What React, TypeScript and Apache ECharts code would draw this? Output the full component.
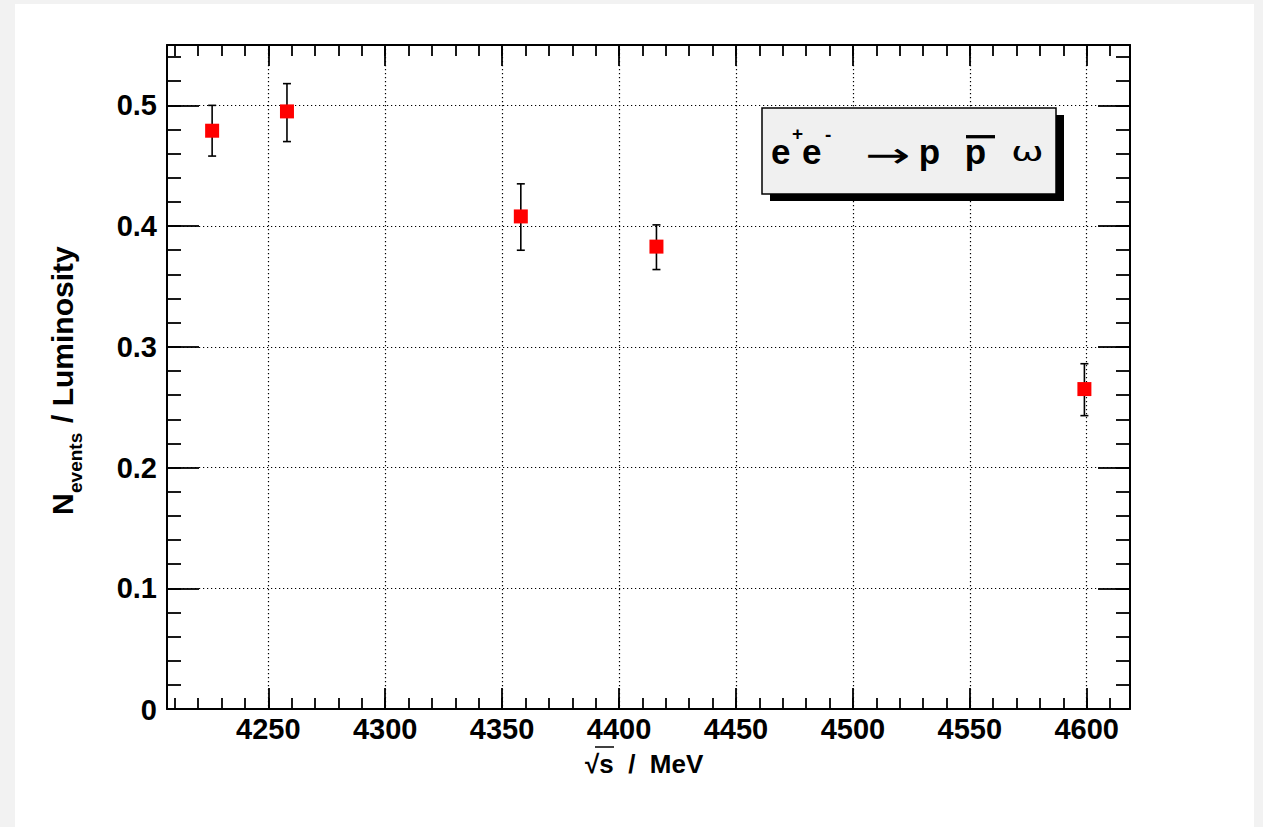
import React, { useEffect, useRef } from 'react';
import * as echarts from 'echarts';

// ---- data ----
const energies = [4226, 4258, 4358, 4416, 4599];
const ratios = [0.479, 0.495, 0.408, 0.383, 0.265];
const errLow = [0.458, 0.470, 0.380, 0.364, 0.243];
const errHigh = [0.500, 0.518, 0.435, 0.401, 0.286];

// ---- tick labels ----
const xMajorTicks = [4250, 4300, 4350, 4400, 4450, 4500, 4550, 4600];
const xMinorTicks = [4210, 4220, 4230, 4240, 4250, 4260, 4270, 4280, 4290, 4300, 4310, 4320, 4330, 4340, 4350, 4360, 4370, 4380, 4390, 4400, 4410, 4420, 4430, 4440, 4450, 4460, 4470, 4480, 4490, 4500, 4510, 4520, 4530, 4540, 4550, 4560, 4570, 4580, 4590, 4600, 4610];
const yMajorTicks = [0, 0.1, 0.2, 0.3, 0.4, 0.5];
const yMinorTicks = [0.02, 0.04, 0.06, 0.08, 0.1, 0.12, 0.14, 0.16, 0.18, 0.2, 0.22, 0.24, 0.26, 0.28, 0.3, 0.32, 0.34, 0.36, 0.38, 0.4, 0.42, 0.44, 0.46, 0.48, 0.5, 0.52, 0.54];

const X_MIN = 4206.7;
const X_MAX = 4618.5;
const Y_MIN = 0;
const Y_MAX = 0.55;

const FONT = '"Liberation Sans", Arial, Helvetica, sans-serif';
const lineStyle = { color: '#000', width: 2 };
const tickStyle = { color: '#000', width: 1.8 };
const gridDot = { color: '#000', width: 1.2, type: [1.2, 2.8] as any };

function makeAxis(
  pos: string,
  min: number,
  max: number,
  ticks: number[],
  len: number,
  showLine: boolean,
  extra: any = {}
) {
  return {
    type: 'value',
    position: pos,
    min,
    max,
    gridIndex: 0,
    axisLine: { show: showLine, onZero: false, lineStyle },
    axisTick: { show: true, inside: true, length: len, customValues: ticks, lineStyle: tickStyle },
    axisLabel: { show: false },
    splitLine: { show: false },
    minorTick: { show: false },
    minorSplitLine: { show: false },
    ...extra,
  };
}

export default function App() {
  const ref = useRef<HTMLDivElement>(null);

  useEffect(() => {
    if (!ref.current) return;
    const chart = echarts.init(ref.current, undefined, { renderer: 'svg' });

    const labelStyle = {
      color: '#000',
      fontFamily: FONT,
      fontWeight: 'bold',
      fontSize: 29,
    };

    const option: any = {
      animation: false,
      backgroundColor: '#f2f2f2',
      grid: { left: 167, top: 45, width: 963, height: 664, containLabel: false },
      xAxis: [
        makeAxis('bottom', X_MIN, X_MAX, xMajorTicks, 21, true, {
          axisLabel: {
            show: true,
            customValues: xMajorTicks,
            margin: 5,
            formatter: (v: number) => String(Math.round(v)),
            ...labelStyle,
          },
          splitLine: { show: true, lineStyle: gridDot },
        }),
        makeAxis('top', X_MIN, X_MAX, xMajorTicks, 21, true),
        makeAxis('bottom', X_MIN, X_MAX, xMinorTicks, 11, false),
        makeAxis('top', X_MIN, X_MAX, xMinorTicks, 11, false),
      ],
      yAxis: [
        makeAxis('left', Y_MIN, Y_MAX, yMajorTicks, 32, true, {
          axisLabel: {
            show: true,
            customValues: yMajorTicks,
            margin: 10,
            formatter: (v: number) => (v === 0 ? '{z|0}' : String(Math.round(v * 10) / 10)),
            rich: { z: { ...labelStyle, padding: [2, 0, 0, 0] } },
            ...labelStyle,
          },
          splitLine: { show: true, lineStyle: gridDot },
        }),
        makeAxis('right', Y_MIN, Y_MAX, yMajorTicks, 32, true),
        makeAxis('left', Y_MIN, Y_MAX, yMinorTicks, 14, false),
        makeAxis('right', Y_MIN, Y_MAX, yMinorTicks, 14, false),
      ],
      series: [
        {
          type: 'custom',
          xAxisIndex: 0,
          yAxisIndex: 0,
          z: 3,
          encode: { x: 0, y: [1, 2] },
          data: energies.map((e, i) => [e, errLow[i], errHigh[i]]),
          renderItem: (params: any, api: any) => {
            const x = api.value(0);
            const pLo = api.coord([x, api.value(1)]);
            const pHi = api.coord([x, api.value(2)]);
            const cap = 4;
            const style = { stroke: '#000', lineWidth: 1.6 };
            return {
              type: 'group',
              children: [
                { type: 'line', shape: { x1: pLo[0], y1: pLo[1], x2: pHi[0], y2: pHi[1] }, style },
                { type: 'line', shape: { x1: pLo[0] - cap, y1: pLo[1], x2: pLo[0] + cap, y2: pLo[1] }, style },
                { type: 'line', shape: { x1: pHi[0] - cap, y1: pHi[1], x2: pHi[0] + cap, y2: pHi[1] }, style },
              ],
            };
          },
        },
        {
          type: 'scatter',
          xAxisIndex: 0,
          yAxisIndex: 0,
          z: 4,
          symbol: 'rect',
          symbolSize: 14,
          itemStyle: { color: '#ff0000', opacity: 1 },
          data: energies.map((e, i) => [e, ratios[i]]),
        },
      ],
      graphic: [
        { type: 'rect', z: -10, silent: true, shape: { x: 15, y: 4, width: 1239, height: 823 }, style: { fill: '#ffffff' } },
        // legend box shadow + box
        { type: 'rect', z: 100, shape: { x: 770, y: 115, width: 294, height: 86 }, style: { fill: '#000' } },
        { type: 'rect', z: 101, shape: { x: 762, y: 108, width: 294, height: 86 }, style: { fill: '#f0f0f0', stroke: '#000', lineWidth: 1.5 } },
        { type: 'text', z: 102, x: 771, y: 151, style: { text: 'e', font: `bold 35px ${FONT}`, fill: '#000', verticalAlign: 'middle' } },
        { type: 'text', z: 102, x: 792, y: 133, style: { text: '+', font: `bold 19px ${FONT}`, fill: '#000', verticalAlign: 'middle' } },
        { type: 'text', z: 102, x: 802, y: 151, style: { text: 'e', font: `bold 35px ${FONT}`, fill: '#000', verticalAlign: 'middle' } },
        { type: 'text', z: 102, x: 825, y: 134.5, style: { text: '-', font: `bold 19px ${FONT}`, fill: '#000', verticalAlign: 'middle' } },
        { type: 'text', z: 102, x: 865, y: 155, scaleX: 1.55, style: { text: '→', font: `35px "DejaVu Sans", sans-serif`, fill: '#000', verticalAlign: 'middle' } },
        { type: 'text', z: 102, x: 918.7, y: 151, style: { text: 'p', font: `bold 35px ${FONT}`, fill: '#000', verticalAlign: 'middle' } },
        { type: 'text', z: 102, x: 964.7, y: 151, style: { text: 'p', font: `bold 35px ${FONT}`, fill: '#000', verticalAlign: 'middle' } },
        { type: 'line', z: 102, shape: { x1: 966, y1: 136.7, x2: 995, y2: 136.7 }, style: { stroke: '#000', lineWidth: 3.3 } },
        { type: 'text', z: 102, x: 1011, y: 152, scaleX: 1.45, style: { text: 'ω', font: `27px "DejaVu Sans", sans-serif`, fill: '#000', verticalAlign: 'middle' } },
        // x-axis title
        { type: 'text', z: 20, x: 585, y: 764, style: { text: '√s  /  MeV', font: `bold 26px ${FONT}`, fill: '#000', verticalAlign: 'middle' } },
        { type: 'line', z: 20, shape: { x1: 595, y1: 747, x2: 614, y2: 747 }, style: { stroke: '#000', lineWidth: 1.5 } },
        // y-axis title (rotated)
        {
          type: 'group',
          z: 20,
          x: 62,
          y: 515,
          rotation: Math.PI / 2,
          children: [
            { type: 'text', x: 0, y: 0, style: { text: 'N', font: `bold 30px ${FONT}`, fill: '#000', verticalAlign: 'middle' } },
            { type: 'text', x: 22, y: 13, style: { text: 'events', font: `bold 19px ${FONT}`, fill: '#000', verticalAlign: 'middle' } },
            { type: 'text', x: 92, y: 0, style: { text: '/ Luminosity', font: `bold 30px ${FONT}`, fill: '#000', verticalAlign: 'middle' } },
          ],
        },
      ],
    };

    chart.setOption(option);
    return () => chart.dispose();
  }, []);

  return <div ref={ref} style={{ position: 'absolute', left: 0, top: 0, width: 1263, height: 827 }} />;
}
